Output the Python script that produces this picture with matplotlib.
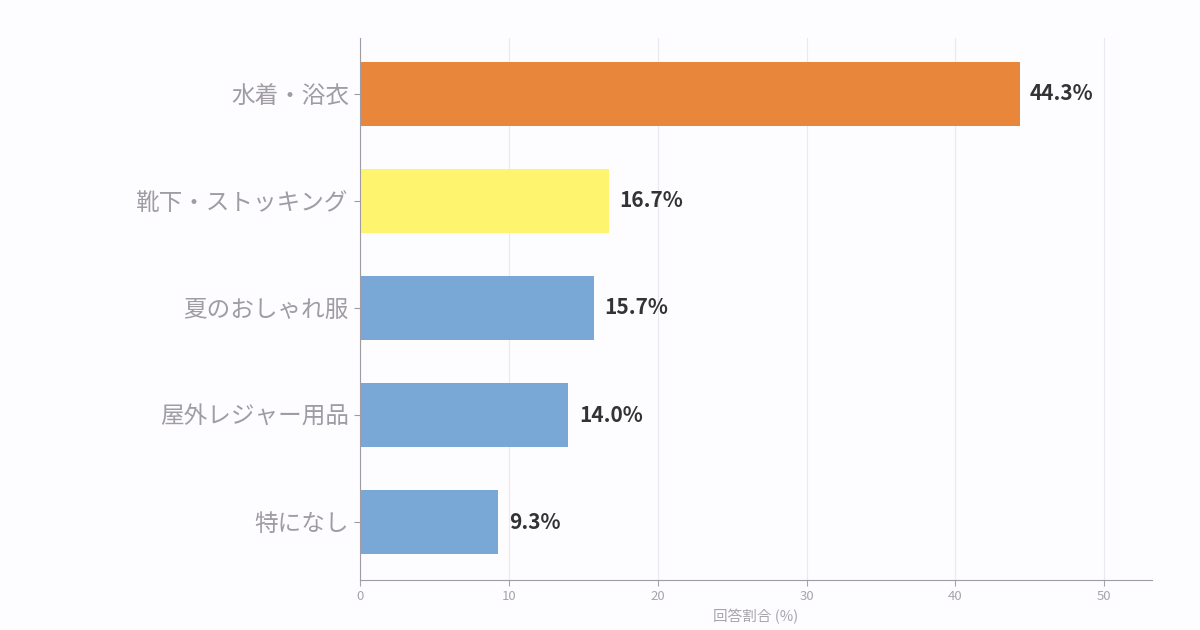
import matplotlib
matplotlib.use('Agg')
import matplotlib.pyplot as plt

plt.rcParams['font.family'] = ['Noto Sans CJK JP', 'DejaVu Sans']

categories = ['水着・浴衣', '靴下・ストッキング', '夏のおしゃれ服', '屋外レジャー用品', '特になし']
values = [44.3, 16.7, 15.7, 14.0, 9.3]
colors = ['#E8873B', '#FEF46E', '#7AA8D6', '#7AA8D6', '#7AA8D6']

fig = plt.figure(figsize=(12, 6.3), dpi=100, facecolor='#FDFCFE')
ax = fig.add_axes([0.3, 0.0794, 0.66, 0.8603])
ax.set_facecolor('#FDFCFE')

y = list(range(len(categories)))
ax.barh(y, values, height=0.6, color=colors, zorder=2)
for yi, v in zip(y, values):
    ax.text(v + 0.7, yi, f'{v:.1f}%', va='center', ha='left',
            fontsize=15, fontweight='bold', color='#333333')

ax.set_yticks(y)
ax.set_yticklabels(categories, fontsize=17, color='#A09CA4')
ax.set_ylim(4.54, -0.52)
ax.set_xlim(0, 53.2)
ax.set_xticks([0, 10, 20, 30, 40, 50])
ax.tick_params(axis='x', labelsize=9.5, colors='#A8A4AC', length=4, color='#A8A4AC')
ax.tick_params(axis='y', length=4, color='#A09CA4', pad=4)
ax.set_xlabel('回答割合 (%)', fontsize=10.5, color='#A8A4AC', labelpad=4)
ax.grid(axis='x', color='#ECE8F0', linewidth=0.8, zorder=0)
for s in ['top', 'right']:
    ax.spines[s].set_visible(False)
ax.spines['left'].set_color('#A09CA4')
ax.spines['bottom'].set_color('#A09CA4')

fig.savefig('out.png', dpi=100, facecolor=fig.get_facecolor())
